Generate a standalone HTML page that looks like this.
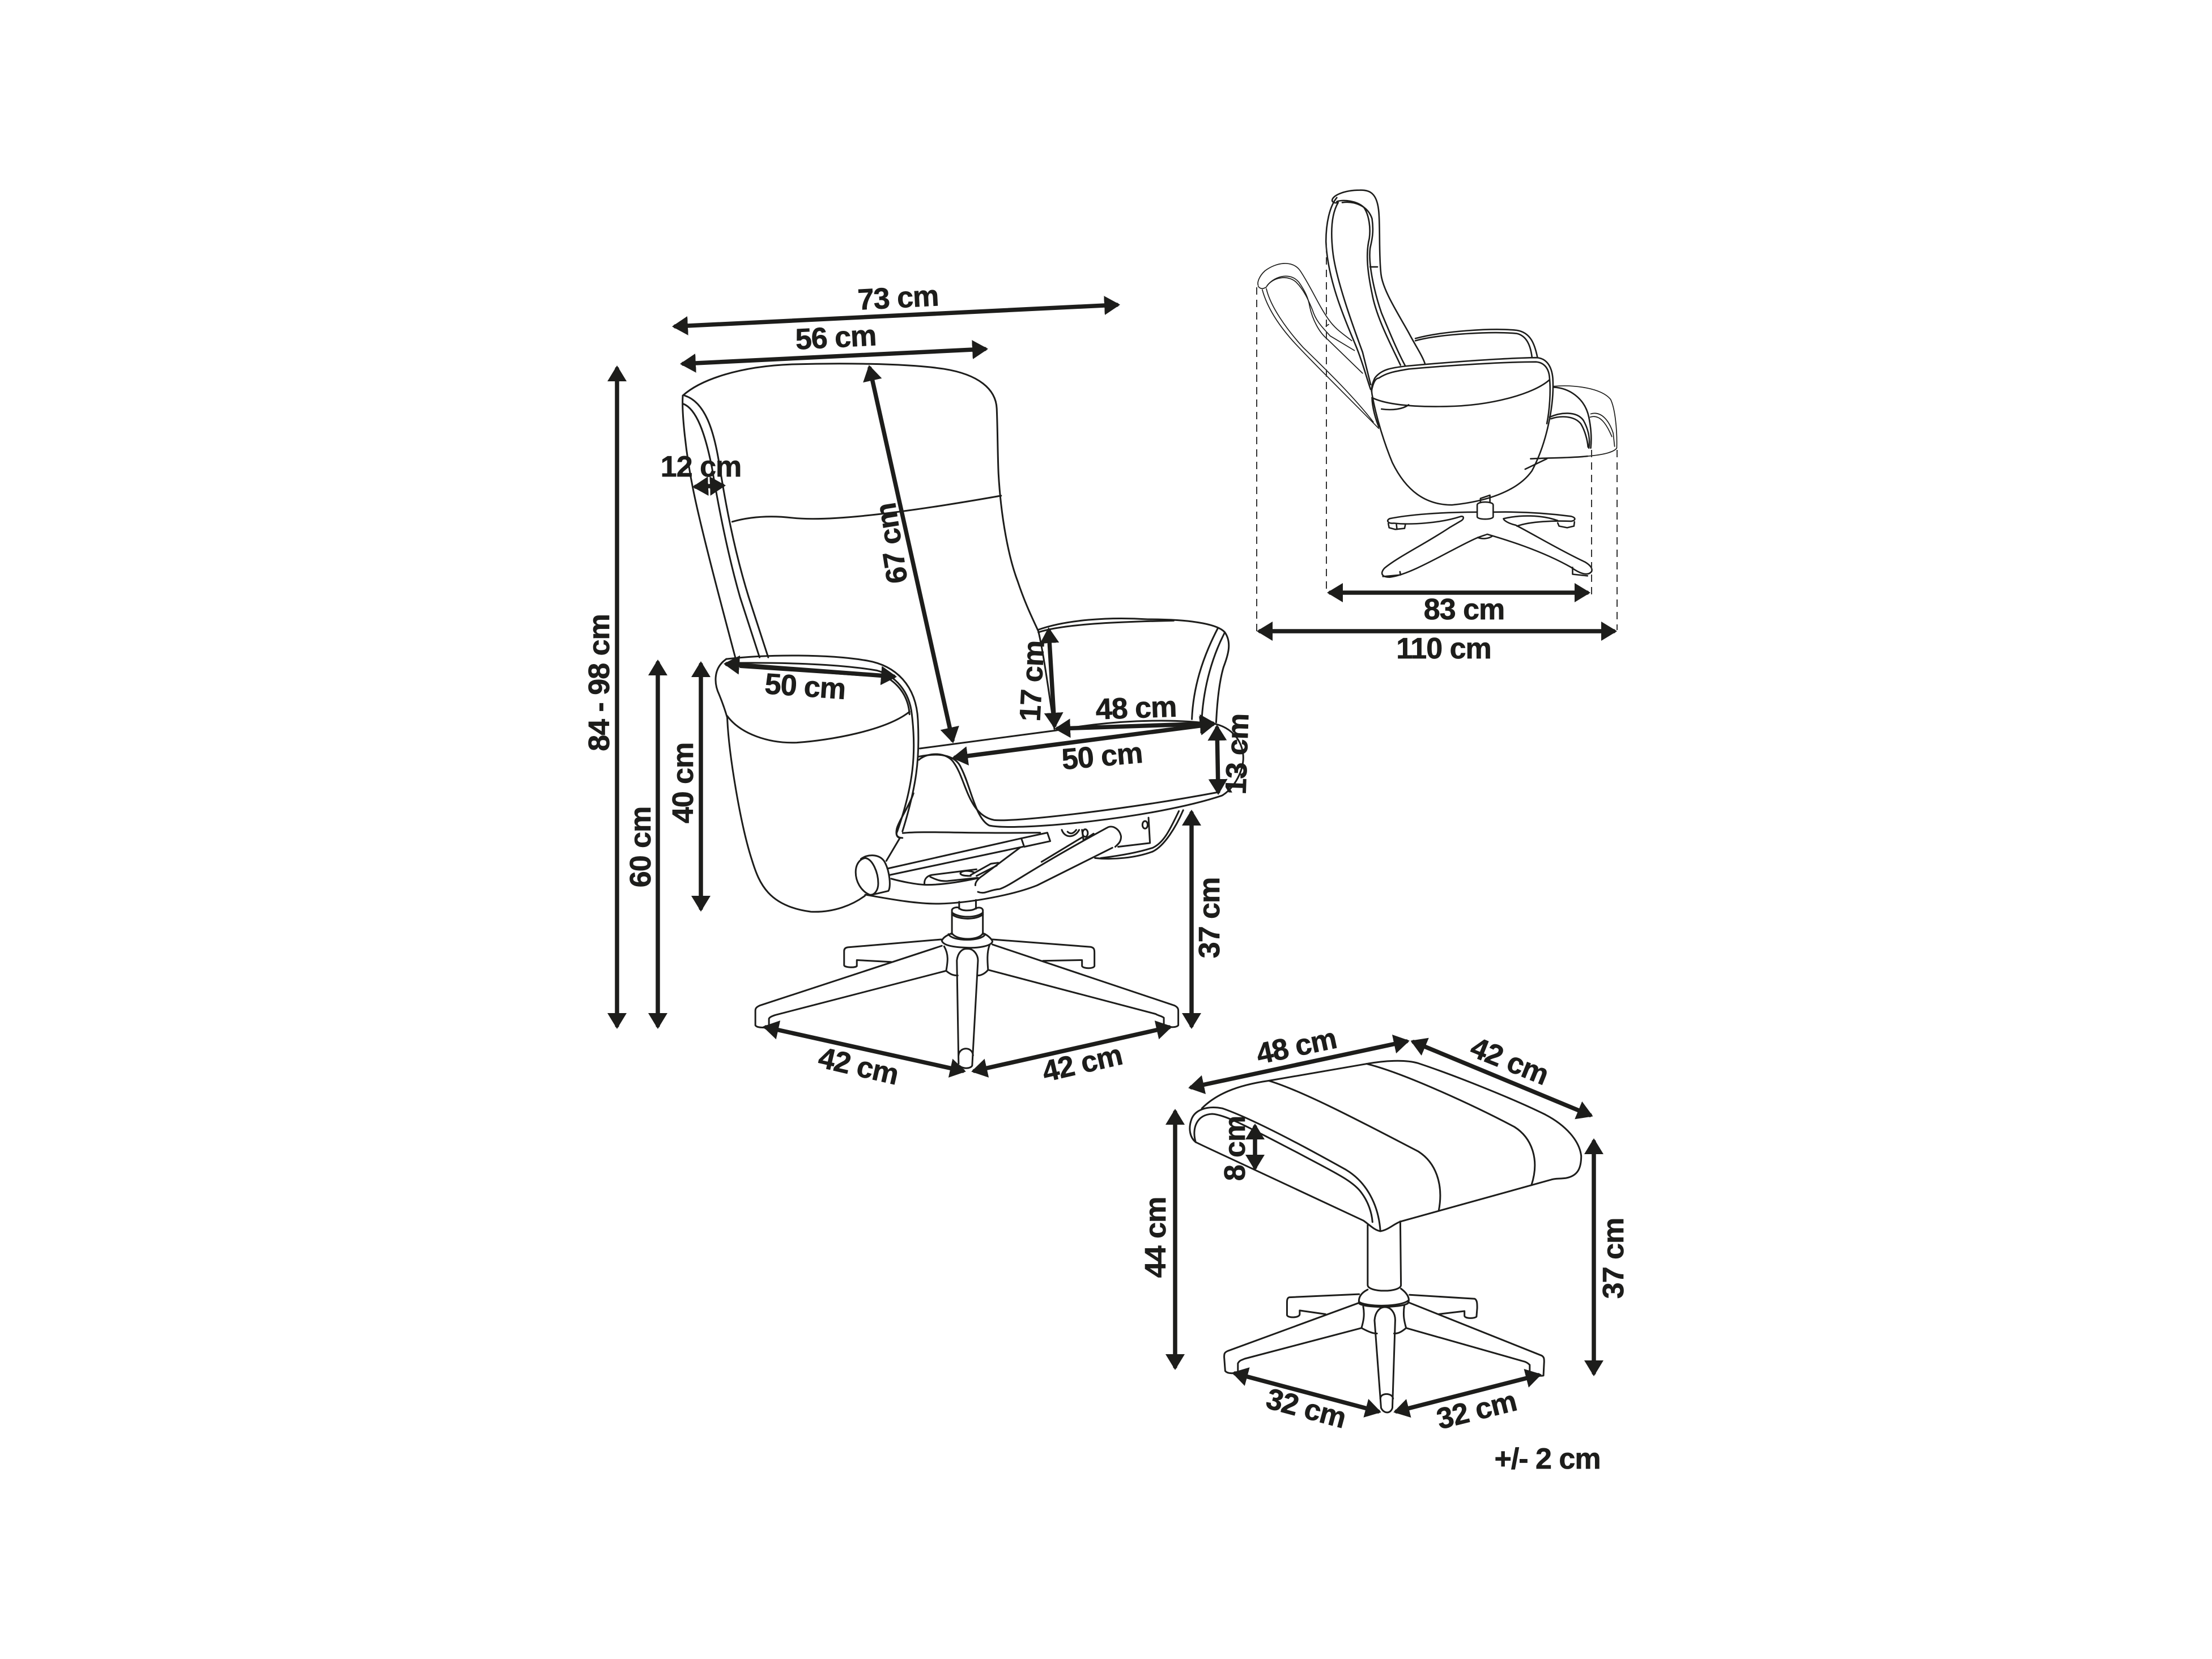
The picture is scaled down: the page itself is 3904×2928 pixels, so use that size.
<!DOCTYPE html>
<html><head><meta charset="utf-8"><style>
html,body{margin:0;padding:0;background:#fff}
svg{display:block}
.d path,.d line{fill:none;stroke:#1d1d1b;stroke-width:3;vector-effect:non-scaling-stroke;stroke-linecap:round;stroke-linejoin:round}
.s path{stroke-width:2.6}
.s .t path{stroke-width:1.7}
.h line{stroke-width:2;stroke-dasharray:13 9;stroke-linecap:butt;stroke:#333}
.a line{stroke:#1d1d1b;stroke-width:7.5;marker-start:url(#m);marker-end:url(#m)}
text{font-family:"Liberation Sans",sans-serif;font-weight:bold;font-size:52px;letter-spacing:-1px;fill:#1d1d1b;stroke:#1d1d1b;stroke-width:.7;text-anchor:middle;dominant-baseline:central}
</style></head><body>
<svg xmlns="http://www.w3.org/2000/svg" width="3904" height="2928" viewBox="0 0 3904 2928">
<defs><marker id="m" markerUnits="userSpaceOnUse" markerWidth="29" markerHeight="35" refX="22" refY="17" orient="auto-start-reverse"><path d="M0,0L28,17L0,34Z" fill="#1d1d1b"/></marker></defs>
<rect width="3904" height="2928" fill="#fff"/>

<!-- Chair upper -->
<g class="d" transform="translate(1000,480) scale(.7653,.574)">
<path d="M268,380C310,330 400,290 520,284C620,280 780,280 870,298C950,315 990,360 992,420C994,480 994,560 996,620C1002,760 1020,880 1040,950C1060,1030 1080,1080 1088,1105C1100,1170 1115,1320 1125,1405"/>
<path d="M268,380C265,430 275,560 292,670C310,790 360,1040 390,1190"/>
<path d="M268,405C300,420 320,500 335,600C350,720 370,860 400,1000L445,1185"/>
<path d="M272,380C320,400 340,490 352,590C365,700 385,850 420,1000L465,1185"/>
<path d="M382,768C430,750 480,750 520,756C600,768 760,745 1002,688"/>
<path d="M1088,1100C1150,1070 1250,1060 1340,1068C1430,1068 1500,1080 1518,1108C1535,1140 1525,1180 1515,1215C1505,1260 1500,1330 1498,1385"/>
<path d="M1088,1108C1150,1080 1300,1075 1400,1072"/>
<path d="M1502,1095C1465,1190 1445,1280 1442,1375"/>
<path d="M1518,1108C1490,1180 1470,1270 1465,1370"/>
</g>
<!-- Chair lower -->
<g class="d" transform="translate(1000,1100) scale(.829,.574)">
<path d="M340,110C310,140 315,190 325,220C335,255 340,280 342,290C345,400 370,620 395,730C410,800 430,870 520,887C570,890 610,865 635,838"/>
<path d="M340,110C430,95 560,95 640,115C700,130 745,190 748,300C752,420 745,500 715,640"/>
<path d="M360,122C500,120 600,130 660,145C700,160 730,210 735,280C745,400 738,500 704,640C700,650 704,660 715,660"/>
<path d="M370,135L680,165C710,190 728,230 730,280"/>
<path d="M342,285C370,340 430,370 490,367C560,360 680,330 730,272"/>
<path d="M752,385L1040,330C1150,300 1280,290 1380,310"/>
<path d="M750,420C770,395 810,395 825,430C850,480 855,590 910,605C960,612 1200,570 1385,520"/>
<path d="M750,410C800,395 830,410 840,445C860,500 870,600 900,622C960,640 1250,600 1395,530C1420,510 1445,450 1440,400C1435,350 1410,320 1382,310"/>
</g>
<!-- Mechanism and base -->
<g class="d" transform="translate(1300,1400) scale(.5102,.3316)">
<path d="M575,212C650,200 780,215 1050,210"/>
<path d="M612,0C600,60 560,150 554,190C550,220 555,235 565,238L518,360"/>
<path d="M412,420C412,380 425,350 445,345C470,350 490,420 490,480C490,520 475,545 460,540C430,520 412,470 412,420Z"/>
<path d="M430,350C450,325 490,320 510,360C530,410 535,500 525,520L470,540"/>
<path d="M525,400L985,240M530,435L990,285M985,240L1075,210L1085,255L995,285Z"/>
<path d="M535,455C570,470 620,485 650,487C710,490 780,470 835,452"/>
<path d="M445,540C520,560 620,590 700,588C800,585 950,545 1040,490L1300,290"/>
<path d="M826,490C825,470 840,450 850,440L980,290"/>
<path d="M1055,365L1195,235"/>
<path d="M835,525C860,540 870,515 910,510C950,490 1000,420 1280,185C1300,165 1325,190 1330,230C1330,260 1320,270 1310,285"/>
<path d="M650,485C648,455 660,440 675,435L830,405M670,445C690,460 705,470 730,467L835,450M820,420C790,405 770,420 775,430C780,440 800,440 810,440M810,435L880,375L905,370M830,440L900,385"/>
<path d="M1320,285L1430,265L1425,130"/>
<path d="M1404,168a9,20 0 1,0 18,0a9,20 0 1,0 -18,0M1197,212a9,20 0 1,0 18,0a9,20 0 1,0 -18,0M1125,195C1135,240 1170,240 1185,195M1145,205C1155,220 1165,215 1175,195"/>
<path d="M1195,195L1200,250L1235,215"/>
<path d="M1240,345C1300,355 1380,345 1440,310C1480,280 1520,180 1545,90"/>
<path d="M1530,95C1500,190 1480,260 1440,290C1400,310 1340,330 1260,345"/>
<path d="M770,578L770,615M828,568L828,615"/>
<path d="M745,750L745,620C750,605 770,605 770,612C780,628 815,628 828,612C840,605 850,610 852,622L852,750"/>
<path d="M745,635C770,665 830,665 852,635M745,645C770,675 830,675 852,645"/>
<path d="M710,785C715,765 730,755 745,745C760,785 840,785 852,745C870,755 885,780 885,790C880,815 830,825 800,822C750,820 715,810 710,785Z"/>
<path d="M733,750C745,790 850,790 860,750"/>
<path d="M708,778L385,820C375,822 372,830 372,840L372,915C372,928 410,930 416,920L416,888L535,898"/>
<path d="M885,778L1225,818C1238,822 1238,835 1238,850L1238,920C1235,935 1200,935 1195,920L1195,888L1060,892"/>
<path d="M710,812L80,1130C65,1140 65,1150 65,1160L65,1235C70,1250 100,1248 112,1245L112,1200C115,1190 125,1185 135,1180L725,945"/>
<path d="M885,805L1515,1130C1528,1140 1528,1150 1528,1160L1528,1235C1520,1250 1490,1245 1478,1240L1478,1195C1470,1185 1460,1185 1450,1175L870,940"/>
<path d="M718,815C735,860 730,900 725,945C740,965 750,970 765,970M875,808C865,850 868,900 870,940C860,960 845,970 835,970"/>
<path d="M768,1440L762,890C765,850 780,825 798,828C820,825 835,860 835,890L815,1450C810,1465 785,1470 770,1450"/>
<path d="M768,1395C770,1350 815,1345 818,1395"/>
</g>
<!-- Side view -->
<g class="d s" transform="translate(2180,300) scale(.4783,.574)">
<path d="M358,95C355,80 400,62 460,62C505,60 525,80 530,130C535,180 530,260 538,320C545,370 600,440 640,500C665,540 690,570 700,595"/>
<path d="M375,85C350,110 335,160 335,220C340,340 410,470 445,540C470,590 485,640 500,675"/>
<path d="M358,95C362,102 372,102 380,100C355,135 352,190 360,250C370,330 430,470 470,560L500,660"/>
<path d="M375,97C400,90 450,95 475,115C495,140 500,180 495,210C480,260 490,320 505,380C520,450 570,530 610,600"/>
<path d="M395,100C440,95 490,110 505,150C512,190 505,215 498,240C490,290 515,380 540,440C570,500 600,560 628,603"/>
<path d="M498,298L525,298"/>
<path d="M665,518C770,495 950,485 1040,493C1090,500 1105,535 1115,575"/>
<path d="M665,525C750,505 950,495 1040,503C1075,510 1090,540 1095,575"/>
<path d="M515,640C540,612 580,608 630,603C800,590 1000,578 1110,577C1150,578 1168,605 1172,640C1178,720 1150,840 1095,925C1040,990 920,1020 800,1030C700,1030 630,985 580,900C550,840 520,760 505,690C500,665 510,650 515,640Z"/>
<path d="M503,680C510,650 520,640 530,640C560,622 600,618 640,612C800,600 1000,590 1110,590C1140,592 1158,610 1160,640C1165,680 1160,740 1150,780"/>
<path d="M505,700C505,730 520,770 530,790"/>
<path d="M505,700C540,715 620,730 780,727C940,725 1100,690 1160,645"/>
<path d="M540,735C580,740 620,735 640,722"/>
<path d="M905,1022L905,1010L940,1000L940,1022"/>
<path d="M893,1030C893,1018 952,1018 952,1030L952,1066C952,1076 893,1076 893,1066Z"/>
<path d="M892,1052C760,1052 640,1060 570,1072C555,1078 565,1088 585,1086C650,1092 760,1085 830,1066C845,1062 845,1072 835,1078L790,1100C700,1150 600,1190 550,1225C535,1240 540,1252 570,1252C650,1245 800,1165 890,1132C910,1125 925,1122 930,1120C970,1130 1120,1165 1240,1222C1270,1240 1300,1250 1315,1235C1320,1225 1310,1215 1290,1205C1200,1170 1100,1120 1035,1092C1000,1085 990,1075 990,1072C1050,1060 1130,1060 1190,1078"/>
<path d="M952,1052C1050,1050 1150,1055 1240,1065C1260,1070 1255,1078 1240,1080C1180,1078 1090,1080 1040,1095"/>
<path d="M565,1087L568,1100L590,1105L625,1102L628,1090M595,1090L597,1105M1190,1085L1195,1095L1225,1100L1250,1095L1252,1082M545,1250L610,1245L608,1235M1245,1222L1245,1243L1300,1248M895,1130C910,1135 935,1135 950,1125"/>
<path d="M1160,760C1200,745 1260,740 1285,770C1305,800 1310,830 1305,855"/>
<path d="M1165,765C1200,755 1250,755 1275,780C1290,800 1300,830 1302,852"/>
<path d="M1175,668C1230,670 1290,700 1305,760C1315,800 1315,830 1312,855"/>
<path d="M1090,888C1170,885 1250,885 1300,880"/>
<path d="M1070,920L1150,888"/>
<g class="t">
<path d="M85,355C80,345 90,325 110,310C150,285 210,275 240,310C280,360 310,420 345,460C370,490 400,505 430,525"/>
<path d="M85,358C95,368 105,365 115,360C135,330 200,310 235,345C260,375 270,395 275,420C285,460 310,500 340,520L470,625"/>
<path d="M118,355C150,325 200,325 225,345C255,370 270,400 285,430C300,470 330,490 350,510L440,555"/>
<path d="M100,368C120,430 170,490 240,550C320,620 430,710 530,795"/>
<path d="M115,365C130,420 190,490 250,545C330,610 430,690 510,775"/>
<path d="M335,480L345,475"/>
<path d="M1175,665C1250,660 1350,670 1385,705C1400,730 1410,790 1408,855C1400,865 1370,875 1300,880"/>
<path d="M1312,750C1350,740 1380,770 1395,810L1400,850"/>
<path d="M1310,760C1345,750 1370,780 1390,820"/>
</g>
</g>
<g class="d h">
<line x1="2218" y1="507" x2="2218" y2="1114"/>
<line x1="2341" y1="432" x2="2341" y2="1046"/>
<line x1="2809" y1="794" x2="2809" y2="1058"/>
<line x1="2854" y1="794" x2="2854" y2="1112"/>
</g>
<!-- Ottoman -->
<g class="d" transform="translate(2000,1780) scale(.6059,.5421)">
<path d="M200,325C240,280 300,250 395,235L680,180C730,170 790,165 830,178C930,215 1100,290 1200,345C1260,380 1300,430 1305,480C1305,520 1295,545 1260,552C1240,555 1230,552 1215,558L780,693C760,700 745,720 720,725C700,720 690,705 670,690L210,450L182,435C165,420 160,390 170,360C180,330 215,315 260,325C350,360 500,450 620,525C680,565 715,640 720,725"/>
<path d="M182,435C170,390 185,345 230,343C270,345 350,395 480,470C580,530 640,560 665,600C685,630 695,665 697,695"/>
<path d="M395,235C500,270 700,390 830,465C880,500 905,570 890,658"/>
<path d="M680,180C790,210 1000,320 1110,385C1160,420 1185,490 1160,575"/>
<path d="M683,705L683,900C683,925 780,925 780,900L778,693"/>
<path d="M683,915C665,925 655,940 658,960C670,975 780,975 800,960C810,940 790,920 780,912"/>
<path d="M658,955C680,972 780,972 802,950"/>
<path d="M658,930L455,940C448,942 448,950 448,960L448,998C450,1008 485,1008 485,995L485,983L560,995"/>
<path d="M805,932L995,945C1002,950 1002,960 1002,975L1000,1003C995,1010 965,1010 965,1000L965,985L890,995"/>
<path d="M658,958L275,1115C265,1120 265,1125 265,1135L268,1180C275,1190 295,1188 305,1185L305,1155C310,1145 315,1145 325,1140L665,1040"/>
<path d="M805,958L1190,1130C1197,1135 1197,1140 1197,1150L1195,1195C1185,1197 1165,1195 1155,1185L1155,1160C1150,1155 1145,1150 1135,1148L795,1040"/>
<path d="M670,970C675,1000 670,1020 665,1040C690,1055 700,1058 710,1058M790,965C785,1000 790,1020 795,1040C780,1055 770,1058 760,1058"/>
<path d="M722,1300L703,1015C705,985 720,972 733,972C750,972 765,990 763,1020L755,1300C750,1320 730,1320 722,1300"/>
<path d="M720,1270C720,1250 755,1250 757,1270"/>
</g>
<!-- Dimension arrows -->
<g class="d a">
<line x1="1192" y1="576" x2="1971" y2="538"/>
<line x1="1206" y1="642" x2="1738" y2="616"/>
<line x1="1089" y1="651" x2="1089" y2="1810"/>
<line x1="1161" y1="1170" x2="1161" y2="1810"/>
<line x1="1237" y1="1173" x2="1237" y2="1603"/>
<line x1="2103" y1="1435" x2="2103" y2="1810"/>
<line x1="1228" y1="859" x2="1275" y2="857"/>
<line x1="1535" y1="650" x2="1681" y2="1306"/>
<line x1="1851" y1="1113" x2="1861" y2="1280"/>
<line x1="1867" y1="1286" x2="2140" y2="1277"/>
<line x1="1686" y1="1337" x2="2140" y2="1278"/>
<line x1="2148" y1="1285" x2="2150" y2="1397"/>
<line x1="1283" y1="1172" x2="1577" y2="1194"/>
<line x1="1352" y1="1813" x2="1699" y2="1890"/>
<line x1="1720" y1="1890" x2="2063" y2="1813"/>
<line x1="2348" y1="1046" x2="2801" y2="1046"/>
<line x1="2224" y1="1114" x2="2848" y2="1114"/>
<line x1="2103" y1="1919" x2="2482" y2="1838"/>
<line x1="2495" y1="1839" x2="2806" y2="1968"/>
<line x1="2074" y1="1963" x2="2074" y2="2412"/>
<line x1="2813" y1="2015" x2="2813" y2="2423"/>
<line x1="2215" y1="1989" x2="2215" y2="2060"/>
<line x1="2180" y1="2424" x2="2432" y2="2491"/>
<line x1="2465" y1="2491" x2="2715" y2="2427"/>
</g>
<!-- Labels -->
<text transform="translate(1585,526) rotate(-3)">73 cm</text>
<text transform="translate(1475,596) rotate(-3)">56 cm</text>
<text transform="translate(1237,824)">12 cm</text>
<text transform="translate(1574,959) rotate(-99)">67 cm</text>
<text transform="translate(1421,1212) rotate(4)">50 cm</text>
<text transform="translate(1822,1202) rotate(-87)">17 cm</text>
<text transform="translate(2005,1250) rotate(-2)">48 cm</text>
<text transform="translate(1945,1335) rotate(-5)">50 cm</text>
<text transform="translate(2184,1331) rotate(-88)">13 cm</text>
<text transform="translate(1206,1382) rotate(-90)">40 cm</text>
<text transform="translate(1131,1495) rotate(-90)">60 cm</text>
<text transform="translate(1058,1205) rotate(-90)">84 - 98 cm</text>
<text transform="translate(2135,1620) rotate(-90)">37 cm</text>
<text transform="translate(1515,1882) rotate(13)">42 cm</text>
<text transform="translate(1910,1877) rotate(-13)">42 cm</text>
<text transform="translate(2584,1076)">83 cm</text>
<text transform="translate(2548,1145)">110 cm</text>
<text transform="translate(2288,1847) rotate(-12)">48 cm</text>
<text transform="translate(2664,1873) rotate(22)">42 cm</text>
<text transform="translate(2040,2184) rotate(-90)">44 cm</text>
<text transform="translate(2848,2221) rotate(-90)">37 cm</text>
<text transform="translate(2180,2027) rotate(-90)">8 cm</text>
<text transform="translate(2305,2486) rotate(15)">32 cm</text>
<text transform="translate(2606,2489) rotate(-14)">32 cm</text>
<text transform="translate(2731,2575)">+/- 2 cm</text>
</svg>
</body></html>
